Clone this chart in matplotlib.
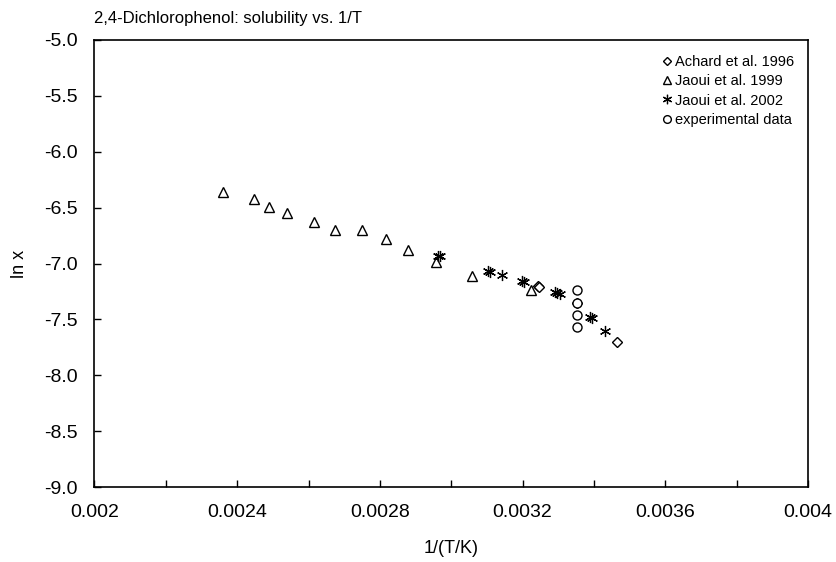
import matplotlib
matplotlib.use("Agg")
import matplotlib.pyplot as plt
from matplotlib.ticker import MultipleLocator, FormatStrFormatter, FuncFormatter

plt.rcParams["font.family"] = ["Liberation Sans", "DejaVu Sans"]

# Achard et al. 1996
achard_x = [0.003243, 0.003247, 0.003353, 0.003465]
achard_y = [-7.20, -7.205, -7.355, -7.70]

# Jaoui et al. 1999
jaoui99_x = [0.002360, 0.002448, 0.002490, 0.002540, 0.002616, 0.002675,
             0.002751, 0.002816, 0.002879, 0.002956, 0.003057, 0.003223]
jaoui99_y = [-6.36, -6.42, -6.49, -6.55, -6.63, -6.70,
             -6.70, -6.78, -6.88, -6.99, -7.11, -7.24]

# Jaoui et al. 2002
jaoui02_x = [0.002962, 0.002968, 0.003104, 0.003110, 0.003141,
             0.003198, 0.003203, 0.003290, 0.003297, 0.003305,
             0.003388, 0.003394, 0.003431]
jaoui02_y = [-6.93, -6.935, -7.07, -7.075, -7.10,
             -7.16, -7.165, -7.255, -7.262, -7.27,
             -7.48, -7.485, -7.60]

# experimental data
exp_x = [0.003353, 0.003353, 0.003353, 0.003353]
exp_y = [-7.24, -7.35, -7.46, -7.565]

fig = plt.figure(figsize=(8.36, 5.62), dpi=100, facecolor="white")
ax = fig.add_axes([0.113, 0.133, 0.8535, 0.796])

ax.plot(achard_x, achard_y, linestyle="none", marker="D", ms=5, mfc="white",
        mec="black", mew=1.0, label="Achard et al. 1996")
ax.plot(jaoui99_x, jaoui99_y, linestyle="none", marker="^", ms=6.5, mfc="white",
        mec="black", mew=1.0, label="Jaoui et al. 1999")
ax.plot(jaoui02_x, jaoui02_y, linestyle="none", marker=(6, 2, 0), ms=8,
        mec="black", mew=0.9, label="Jaoui et al. 2002")
ax.plot(exp_x, exp_y, linestyle="none", marker="o", ms=6.5, mfc="white",
        mec="black", mew=1.0, label="experimental data")

ax.set_xlim(0.002, 0.004)
ax.set_ylim(-9.0, -5.0)
ax.xaxis.set_major_locator(MultipleLocator(0.0004))
ax.xaxis.set_minor_locator(MultipleLocator(0.0002))
ax.xaxis.set_major_formatter(FuncFormatter(lambda v, p: f"{v:g}"))
ax.yaxis.set_major_locator(MultipleLocator(0.5))
ax.yaxis.set_major_formatter(FormatStrFormatter("%.1f"))

ax.tick_params(axis="both", which="both", direction="in", length=5, width=1,
               labelsize=14, top=False, right=False)
ax.tick_params(axis="x", pad=12)
ax.tick_params(axis="y", pad=12)
for s in ax.spines.values():
    s.set_linewidth(1.2)

ax.set_xlabel("1/(T/K)", fontsize=13, labelpad=14)
ax.set_ylabel("ln x", fontsize=13, labelpad=12)
ax.set_title("2,4-Dichlorophenol: solubility vs. 1/T", fontsize=12, loc="left", pad=12)

leg = ax.legend(loc="upper right", bbox_to_anchor=(0.993, 0.985), frameon=False,
                fontsize=10.5, handlelength=0.5, handletextpad=0.3, markerscale=0.85,
                labelspacing=0.35, borderaxespad=0.2)

fig.savefig("out.png", dpi=100)
